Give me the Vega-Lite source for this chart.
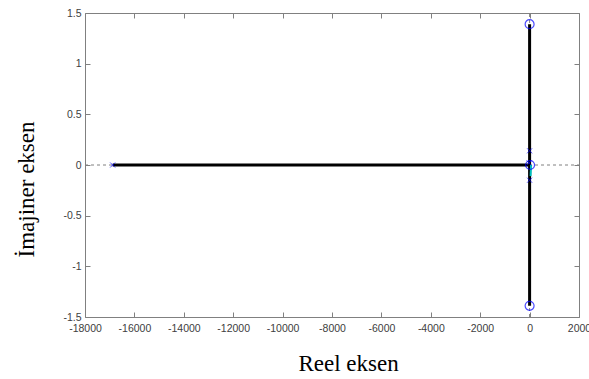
{
  "$schema": "https://vega.github.io/schema/vega-lite/v6.json",
  "width": 494,
  "height": 304,
  "autosize": "none",
  "padding": {"left": 85, "top": 13, "right": 10, "bottom": 62},
  "background": "white",
  "config": {
    "view": {"stroke": "#808080", "strokeWidth": 1},
    "axis": {
      "grid": false,
      "domain": false,
      "tickColor": "#808080",
      "tickSize": -5,
      "labelColor": "#404040",
      "labelFont": "Liberation Sans",
      "labelFontSize": 10.5,
      "labelPadding": 9,
      "labelOverlap": false,
      "labelBound": false,
      "labelFlush": false,
      "labelExpr": "'' + datum.value",
      "titleFont": "Liberation Serif",
      "titleFontSize": 23,
      "titleFontWeight": "normal",
      "titleColor": "black"
    }
  },
  "datasets": {
    "guides": [
      {"g": "h", "x": -18000, "y": 0},
      {"g": "h", "x": 2000, "y": 0},
      {"g": "v", "x": 0, "y": -1.5},
      {"g": "v", "x": 0, "y": 1.5}
    ],
    "locus": [
      {"b": "real", "x": -16880, "y": 0},
      {"b": "real", "x": 0, "y": 0},
      {"b": "imag", "x": 0, "y": 1.39},
      {"b": "imag", "x": 0, "y": -1.39}
    ],
    "small": [
      {"b": "c", "x": 60, "y": 0},
      {"b": "c", "x": 40, "y": -0.11}
    ],
    "poles": [
      {"x": -16880, "y": 0},
      {"x": 0, "y": 0.14},
      {"x": 0, "y": -0.15},
      {"x": -20, "y": 0.02}
    ],
    "zeros": [
      {"x": 0, "y": 1.39},
      {"x": 0, "y": -1.39},
      {"x": 20, "y": 0}
    ]
  },
  "layer": [
    {
      "data": {"name": "guides"},
      "mark": {"type": "line", "color": "#808080", "strokeDash": [3, 3], "strokeWidth": 1},
      "encoding": {
        "x": {"field": "x", "type": "quantitative", "scale": {"domain": [-18000, 2000], "nice": false, "zero": false},
              "axis": {"title": "Reel eksen", "labelPadding": 11, "values": [-18000, -16000, -14000, -12000, -10000, -8000, -6000, -4000, -2000, 0, 2000], "titleX": 263, "titleY": 35}},
        "y": {"field": "y", "type": "quantitative", "scale": {"domain": [-1.5, 1.5], "nice": false},
              "axis": {"title": "İmajiner eksen", "values": [-1.5, -1, -0.5, 0, 0.5, 1, 1.5], "titleX": -47, "titleY": 176}},
        "detail": {"field": "g"},
        "order": {"field": "x"}
      }
    },
    {
      "data": {"name": "guides"},
      "mark": {"type": "point", "opacity": 0},
      "encoding": {
        "x": {"field": "x", "type": "quantitative", "axis": {"orient": "top", "labels": false, "title": null, "values": [-18000, -16000, -14000, -12000, -10000, -8000, -6000, -4000, -2000, 0, 2000]}},
        "y": {"field": "y", "type": "quantitative", "axis": {"orient": "right", "labels": false, "title": null, "values": [-1.5, -1, -0.5, 0, 0.5, 1, 1.5]}}
      }
    },
    {
      "data": {"name": "locus"},
      "mark": {"type": "line", "color": "black", "strokeWidth": 3},
      "encoding": {
        "x": {"field": "x", "type": "quantitative", "axis": null},
        "y": {"field": "y", "type": "quantitative", "axis": null},
        "detail": {"field": "b"}
      }
    },
    {
      "data": {"name": "small"},
      "mark": {"type": "line", "color": "#00c0c0", "strokeWidth": 2},
      "encoding": {
        "x": {"field": "x", "type": "quantitative", "axis": null},
        "y": {"field": "y", "type": "quantitative", "axis": null},
        "detail": {"field": "b"}
      }
    },
    {
      "data": {"name": "poles"},
      "mark": {"type": "point", "shape": "M-1,-1L1,1M1,-1L-1,1", "filled": false, "color": "#0000ff", "size": 25, "strokeWidth": 1},
      "encoding": {
        "x": {"field": "x", "type": "quantitative", "axis": null},
        "y": {"field": "y", "type": "quantitative", "axis": null}
      }
    },
    {
      "data": {"name": "zeros"},
      "mark": {"type": "point", "shape": "circle", "filled": false, "color": "#0000ff", "size": 80, "strokeWidth": 1.2},
      "encoding": {
        "x": {"field": "x", "type": "quantitative", "axis": null},
        "y": {"field": "y", "type": "quantitative", "axis": null}
      }
    }
  ],
  "resolve": {"axis": {"x": "independent", "y": "independent"}}
}
